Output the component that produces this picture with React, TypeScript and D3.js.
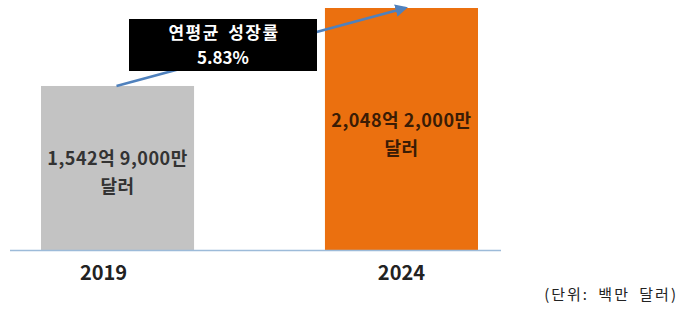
import React from "react";
import * as d3 from "d3";

// market size, millions of US dollars
const years = ["2019", "2024"];
const values = [154290, 204820];
const valueLabels = [["1,542억 9,000만", "달러"], ["2,048억 2,000만", "달러"]];
const barColors = ["#c3c3c3", "#eb700f"];
const labelColors = ["#333333", "#3a1c05"];
const cagrTitle = "연평균 성장률";
const cagrValue = "5.83%";
const unitLabel = "(단위: 백만 달러)";

const width = 683;
const height = 309;
const baseY = 250;
const font = "'Noto Sans CJK KR', 'Noto Sans', sans-serif";

export default function App() {
  const x = d3.scaleBand().domain(years).range([41, 478]).paddingInner(0.461).paddingOuter(0);
  // axis in the source does not start at zero
  const y = d3.scaleLinear().domain([48000, values[1]]).range([baseY, 8]);

  const cx = (i: number) => (x(years[i]) as number) + x.bandwidth() / 2;
  const arrowStart: [number, number] = [cx(0) - 1, y(values[0])];
  const arrowEnd: [number, number] = [cx(1) + 4, y(values[1])];
  const line = d3.line();

  return (
    <svg width={width} height={height} style={{ position: "absolute", left: 0, top: 0, background: "#fff" }}>
      <defs>
        <marker id="ah" viewBox="0 0 10 10" refX="8" refY="5" markerWidth="5" markerHeight="5" orient="auto">
          <path d="M0,0 L10,5 L0,10 z" fill="#4f81bd" />
        </marker>
      </defs>

      {years.map((yr, i) => (
        <g key={yr}>
          <rect x={x(yr)} y={y(values[i])} width={x.bandwidth()} height={baseY - y(values[i])} fill={barColors[i]} />
          {valueLabels[i].map((t, j) => (
            <text
              key={j}
              x={cx(i)}
              y={(i === 0 ? 165 : 127) + j * 28}
              textAnchor="middle"
              fontFamily={font}
              fontWeight="bold"
              fontSize={18}
              letterSpacing={0.5}
              fill={labelColors[i]}
            >
              {t}
            </text>
          ))}
          <text
            x={cx(i) + (i === 0 ? -14 : 0)}
            y={280}
            textAnchor="middle"
            fontFamily={font}
            fontWeight="bold"
            fontSize={20}
            fill="#222"
          >
            {yr}
          </text>
        </g>
      ))}

      <line x1={10} x2={501} y1={baseY + 0.5} y2={baseY + 0.5} stroke="#9dbbd9" strokeWidth={1.5} />

      <path d={line([arrowStart, arrowEnd]) as string} stroke="#4f81bd" strokeWidth={2.5} fill="none" markerEnd="url(#ah)" />

      <rect x={129} y={19} width={188} height={52} fill="#000" />
      <text x={224} y={39} textAnchor="middle" fontFamily={font} fontWeight="bold" fontSize={17} letterSpacing={1.5} wordSpacing={3} fill="#fff">
        {cagrTitle}
      </text>
      <text x={223} y={64} textAnchor="middle" fontFamily={font} fontWeight="bold" fontSize={17} fill="#fff">
        {cagrValue}
      </text>

      <text x={678} y={300} textAnchor="end" fontFamily={font} fontSize={15} letterSpacing={2} wordSpacing={4} fill="#222">
        {unitLabel}
      </text>
    </svg>
  );
}
